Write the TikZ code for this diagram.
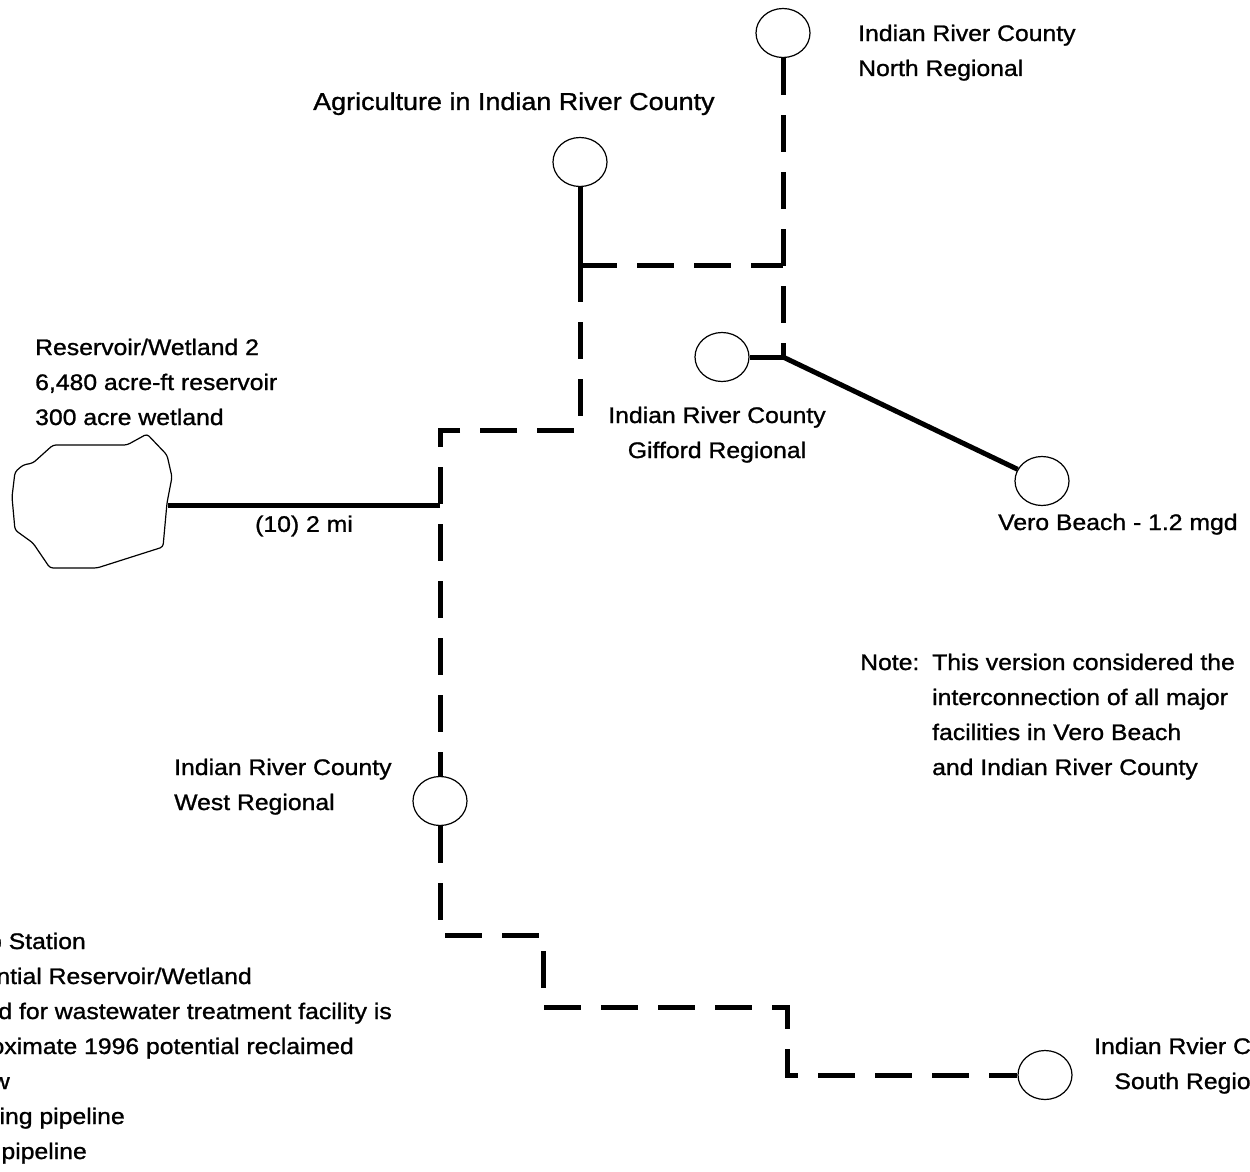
\documentclass[tikz,border=0pt]{standalone}
\usepackage{fontspec}
\setmainfont{Liberation Sans}[FakeStretch=1.1,FakeBold=1.1]
\usetikzlibrary{shapes.geometric,positioning}
\begin{document}
\begin{tikzpicture}[x=1pt,y=-1pt,
  plant/.style={draw,ellipse,line width=1.2pt,minimum width=54pt,minimum height=49pt,inner sep=0pt},
  pipe/.style={line width=5pt},
  newpipe/.style={line width=5pt,dash pattern=on 37pt off 20pt},
  lbl/.style={font=\fontsize{22.5}{35}\selectfont,inner sep=0pt}]
\useasboundingbox (0,0) rectangle (1250,1172);
\node [plant] (north) at (783,33) {};
\node [plant] (agri) at (580,162) {};
\node [plant] (gifford) at (722,357) {};
\node [plant] (vero) at (1042,481) {};
\node [plant] (west) at (440,801) {};
\node [plant] (south) at (1045,1075) {};
\coordinate (jn) at (783,357);
\coordinate (ja) at (580,265);
\coordinate (jb) at (783,265);
\coordinate (jc) at (580,430);
\coordinate (jd) at (440,430);
\coordinate (je) at (440,505);
\coordinate (res) at (168,505);
\draw [line width=1.2pt,rounded corners=3pt] (53,445) -- (127,445) -- (147,434) -- (167,455)
  -- (172,477) -- (167,503) -- (163,547) -- (97,568) -- (50,568) -- (33,543)
  -- (15,530) -- (12,497) -- (15,472) -- (23,465) -- (33,463) -- cycle;
\draw [newpipe] (north.south) -- (jn);
\draw [pipe] (agri.south) -- (ja);
\draw [newpipe] (ja) -- (jb);
\draw [newpipe] (ja) -- (jc) -- (jd) -- (west.north);
\draw [pipe] (gifford.east) -- (jn);
\draw [pipe] (jn) -- (vero);
\draw [pipe] (res) -- (je) node [lbl,midway,below=8pt] (dist) {(10) 2 mi};
\draw [newpipe] (west.south) -- (440,935) -- (543,935) -- (543,1007) -- (787,1007)
  -- (787,1075) -- (south.west);
\node [lbl,anchor=base west,align=left] (northlbl) at (858,76) {Indian River County\\North Regional};
\node [lbl,anchor=base west,font=\fontsize{24.5}{35}\selectfont] (agrilbl) at (313,110) {Agriculture in Indian River County};
\node [lbl,anchor=base west,align=left] (reslbl) at (35,425) {Reservoir/Wetland 2\\6,480 acre-ft reservoir\\300 acre wetland};
\node [lbl,anchor=base,align=center] (giffordlbl) at (717,458) {Indian River County\\Gifford Regional};
\node [lbl,anchor=base west] (verolbl) at (998,530) {Vero Beach - 1.2 mgd};
\node [lbl,anchor=base west,align=left] (westlbl) at (174,810) {Indian River County\\West Regional};
\node [lbl,anchor=base west,align=left] (southlbl) at (1094,1089) {Indian Rvier County\\\hspace*{0.9em}South Regional};
\node [lbl,anchor=base west] (notelbl) at (860,670) {Note:};
\node [lbl,anchor=base west,align=left] (notetxt) at (932,775) {This version considered the\\interconnection of all major\\facilities in Vero Beach\\and Indian River County};
\node [lbl,anchor=base east] (leg1) at (86,949) {p Station};
\node [lbl,anchor=base east] (leg2) at (252,984) {ntial Reservoir/Wetland};
\node [lbl,anchor=base east] (leg3) at (392,1019) {d for wastewater treatment facility is};
\node [lbl,anchor=base east] (leg4) at (354,1054) {oximate 1996 potential reclaimed};
\node [lbl,anchor=base east] (leg5) at (10,1089) {w};
\node [lbl,anchor=base east] (leg6) at (125,1124) {ing pipeline};
\node [lbl,anchor=base east] (leg7) at (87,1159) {pipeline};
\end{tikzpicture}
\end{document}
